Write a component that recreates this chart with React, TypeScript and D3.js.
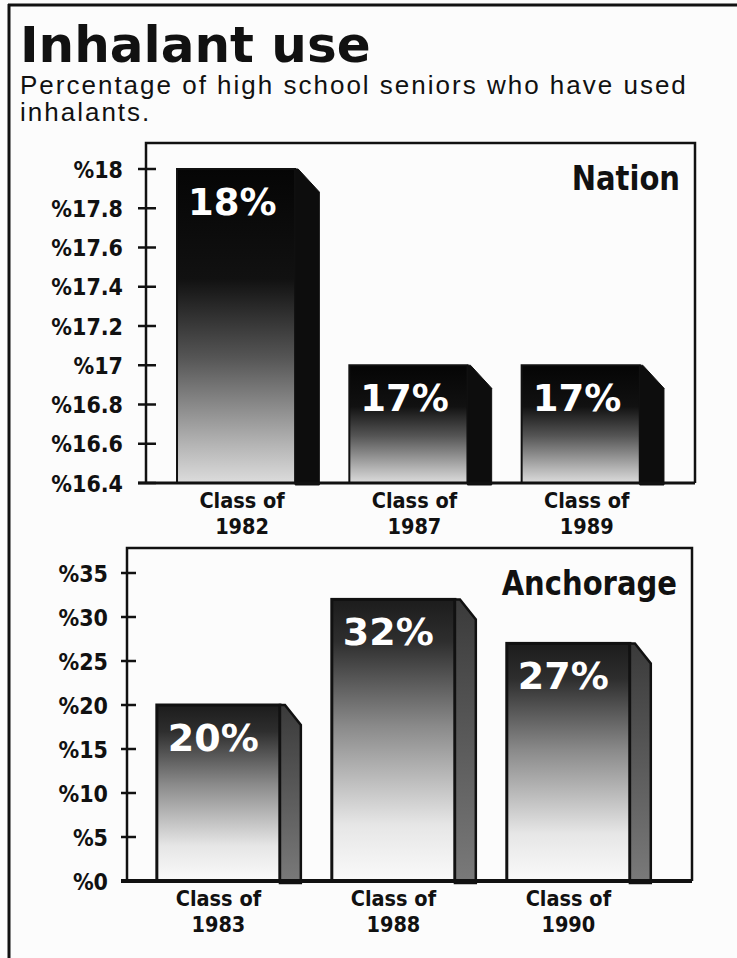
import * as d3 from "d3";

const nationClasses = ["1982", "1987", "1989"];
const nationValues = [18, 17, 17];
const nationTicks = [16.4, 16.6, 16.8, 17, 17.2, 17.4, 17.6, 17.8, 18];

const anchorageClasses = ["1983", "1988", "1990"];
const anchorageValues = [20, 32, 27];
const anchorageTicks = [0, 5, 10, 15, 20, 25, 30, 35];

const width = 737;
const height = 958;

const heavy = "'DejaVu Sans', sans-serif";
const squeeze = 0.88; // fake the tall condensed newspaper face

type PanelProps = {
  name: string;
  classes: string[];
  values: number[];
  ticks: number[];
  box: { left: number; top: number; right: number; bottom: number };
  yTop: number; // pixel position of the highest tick
  padInner: number;
  padOuter: number;
  align: number;
  frontRatio: number;
  bevel: number;
  tickSpan: [number, number];
  tickLabelX: number;
  labelShift: number;
  variant: "nation" | "anchorage";
};

const Condensed = ({
  x,
  y,
  size,
  anchor,
  children,
}: {
  x: number;
  y: number;
  size: number;
  anchor: string;
  children: React.ReactNode;
}) => (
  <text
    transform={`translate(${x},${y}) scale(${squeeze},1)`}
    textAnchor={anchor}
    fontFamily={heavy}
    fontWeight="bold"
    fontSize={size}
    fill="#111"
  >
    {children}
  </text>
);

const Panel = (p: PanelProps) => {
  const { box } = p;
  const x = d3
    .scaleBand<string>()
    .domain(p.classes)
    .range([box.left, box.right])
    .paddingInner(p.padInner)
    .paddingOuter(p.padOuter)
    .align(p.align);
  const y = d3
    .scaleLinear()
    .domain([p.ticks[0], p.ticks[p.ticks.length - 1]])
    .range([box.bottom, p.yTop]);
  const bw = x.bandwidth();
  const fw = bw * p.frontRatio;
  const nation = p.variant === "nation";

  return (
    <g>
      {/* plot frame */}
      <path
        d={`M${box.left},${box.bottom} V${box.top} H${box.right} V${box.bottom}`}
        fill="none"
        stroke="#111"
        strokeWidth={2.5}
      />

      {p.classes.map((c, i) => {
        const x0 = x(c) as number;
        const top = y(p.values[i]);
        const side = [
          [x0 + fw, top],
          [x0 + fw + (nation ? 3 : 5), top],
          [x0 + bw, top + p.bevel],
          [x0 + bw, box.bottom + 2],
          [x0 + fw, box.bottom + 2],
        ];
        const cx = x0 + fw / 2 + p.labelShift;
        return (
          <g key={c}>
            <rect
              x={x0}
              y={top}
              width={fw}
              height={box.bottom - top}
              fill={`url(#grad-${p.variant})`}
              stroke="#111"
              strokeWidth={nation ? 2 : 3}
            />
            <path
              d={d3.line()(side as [number, number][]) + "Z"}
              fill={nation ? "#0d0d0d" : "url(#side-anchorage)"}
              stroke="#111"
              strokeWidth={nation ? 1 : 2.5}
            />
            <text
              x={x0 + 11}
              y={top + 46}
              fill="#fff"
              fontFamily={heavy}
              fontWeight="bold"
              fontSize={nation ? 37 : 38}
            >
              {p.values[i]}%
            </text>
            <Condensed x={cx} y={box.bottom + 25} size={22} anchor="middle">
              Class of
            </Condensed>
            <Condensed x={cx} y={box.bottom + 51} size={22} anchor="middle">
              {c}
            </Condensed>
          </g>
        );
      })}

      {/* x axis */}
      <line
        x1={p.tickSpan[0]}
        x2={box.right}
        y1={box.bottom}
        y2={box.bottom}
        stroke="#111"
        strokeWidth={nation ? 3 : 4}
      />

      {p.ticks.map((t) => (
        <g key={t}>
          <line
            x1={p.tickSpan[0]}
            x2={p.tickSpan[1]}
            y1={y(t)}
            y2={y(t)}
            stroke="#111"
            strokeWidth={2.5}
          />
          <Condensed x={p.tickLabelX} y={y(t) + 8.5} size={23.5} anchor="end">
            %{+t.toFixed(1)}
          </Condensed>
        </g>
      ))}

      <Condensed x={box.right - 15} y={box.top + 47} size={33} anchor="end">
        {p.name}
      </Condensed>
    </g>
  );
};

const App = () => {
  return (
    <svg
      width={width}
      height={height}
      style={{ position: "absolute", left: 0, top: 0, background: "#fcfcfc" }}
    >
      <defs>
        <linearGradient id="grad-nation" x1="0" y1="0" x2="0" y2="1">
          <stop offset="0" stopColor="#050505" />
          <stop offset="0.35" stopColor="#111" />
          <stop offset="0.6" stopColor="#555" />
          <stop offset="0.88" stopColor="#b5b5b5" />
          <stop offset="1" stopColor="#dcdcdc" />
        </linearGradient>
        <linearGradient id="grad-anchorage" x1="0" y1="0" x2="0" y2="1">
          <stop offset="0" stopColor="#1c1c1c" />
          <stop offset="0.15" stopColor="#2e2e2e" />
          <stop offset="0.45" stopColor="#8a8a8a" />
          <stop offset="0.8" stopColor="#e6e6e6" />
          <stop offset="1" stopColor="#fafafa" />
        </linearGradient>
        <linearGradient id="side-anchorage" x1="0" y1="0" x2="0" y2="1">
          <stop offset="0" stopColor="#3a3a3a" />
          <stop offset="1" stopColor="#7a7a7a" />
        </linearGradient>
      </defs>

      {/* outer frame */}
      <line x1={8} x2={737} y1={5} y2={5} stroke="#111" strokeWidth={3} />
      <line x1={9} x2={9} y1={4} y2={958} stroke="#111" strokeWidth={3} />

      <text x={20} y={62} fontFamily={heavy} fontWeight="bold" fontSize={50} fill="#111">
        Inhalant use
      </text>
      <text
        x={20}
        y={94}
        fontFamily="'Liberation Sans', Arial, sans-serif"
        fontSize={26}
        letterSpacing={2}
        fill="#111"
      >
        Percentage of high school seniors who have used
      </text>
      <text
        x={20}
        y={121}
        fontFamily="'Liberation Sans', Arial, sans-serif"
        fontSize={26}
        letterSpacing={2}
        fill="#111"
      >
        inhalants.
      </text>

      <Panel
        name="Nation"
        classes={nationClasses}
        values={nationValues}
        ticks={nationTicks}
        box={{ left: 146, top: 143, right: 695, bottom: 483 }}
        yTop={169}
        padInner={0.174}
        padOuter={0.18}
        align={0.5}
        frontRatio={0.83}
        bevel={23}
        tickSpan={[138, 156]}
        tickLabelX={123}
        labelShift={6}
        variant="nation"
      />
      <Panel
        name="Anchorage"
        classes={anchorageClasses}
        values={anchorageValues}
        ticks={anchorageTicks}
        box={{ left: 127, top: 548, right: 692, bottom: 881 }}
        yTop={573}
        padInner={0.177}
        padOuter={0.203}
        align={0.42}
        frontRatio={0.855}
        bevel={20}
        tickSpan={[121, 136]}
        tickLabelX={108}
        labelShift={0}
        variant="anchorage"
      />
    </svg>
  );
};

export default App;
